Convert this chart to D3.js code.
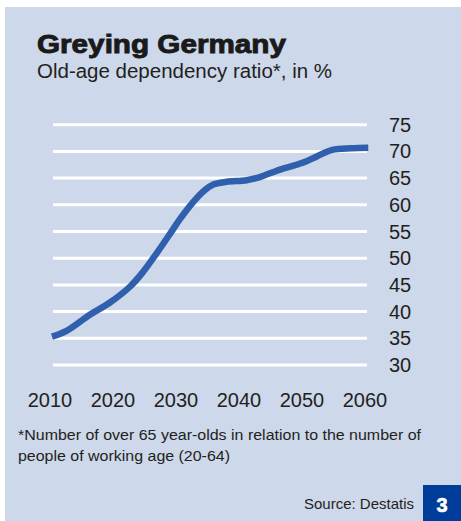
<!DOCTYPE html>
<html><head><meta charset="utf-8">
<script src="https://cdn.jsdelivr.net/npm/d3@7"></script>
<style>body{margin:0;background:#fff}svg{display:block}text{font-family:"Liberation Sans",Arial,sans-serif}</style>
</head><body>
<script>
const years = [2010, 2012.3, 2016, 2019.2, 2022.4, 2024.5, 2026.6, 2028.7, 2030.3, 2032.4, 2034, 2035.6, 2037.7, 2040.9, 2043, 2046.2, 2048.8, 2050.5, 2052.1, 2054.5, 2057.5, 2060.2];
const ratio = [35.3, 36.4, 39.4, 41.7, 44.7, 47.5, 50.9, 54.5, 57.3, 60.5, 62.5, 63.8, 64.3, 64.6, 65.2, 66.6, 67.5, 68.2, 69.1, 70.3, 70.6, 70.7];
const yTicks = [30, 35, 40, 45, 50, 55, 60, 65, 70, 75];
const xTicks = [2010, 2020, 2030, 2040, 2050, 2060];

const W = 461, H = 521;
const svg = d3.select("body").append("svg").attr("width", W).attr("height", H);
svg.append("rect").attr("x", 5).attr("y", 7).attr("width", W - 5).attr("height", H - 7).attr("fill", "#cdd8ea");

const x = d3.scaleLinear().domain([2010, 2060]).range([52, 367]);
const y = d3.scaleLinear().domain([30, 75]).range([365, 124.7]);

// gridlines
svg.append("g").selectAll("line").data(yTicks).join("line")
  .attr("x1", 53).attr("x2", 367)
  .attr("y1", d => y(d)).attr("y2", d => y(d))
  .attr("stroke", "#fff").attr("stroke-width", 3);

// y labels
svg.append("g").selectAll("text").data(yTicks).join("text")
  .attr("x", 389).attr("y", d => y(d) + 7)
  .attr("font-size", 20).attr("fill", "#231f20").text(d => d);

// x labels
svg.append("g").selectAll("text").data(xTicks).join("text")
  .attr("x", d => x(d) - 2).attr("y", 407).attr("text-anchor", "middle")
  .attr("font-size", 20).attr("fill", "#231f20").text(d => d);

// line
const data = years.map((yr, i) => [yr, ratio[i]]);
svg.append("path").datum(data)
  .attr("fill", "none").attr("stroke", "#2f5fad").attr("stroke-width", 6.5)
  .attr("d", d3.line().x(d => x(d[0])).y(d => y(d[1])).curve(d3.curveCatmullRom.alpha(0.5)));

// titles
svg.append("text").attr("x", 37).attr("y", 53).attr("font-size", 25).attr("font-weight", "bold")
  .attr("fill", "#1a1a1a").attr("stroke", "#1a1a1a").attr("stroke-width", 0.9)
  .attr("textLength", 249).attr("lengthAdjust", "spacingAndGlyphs").text("Greying Germany");
svg.append("text").attr("x", 37).attr("y", 78).attr("font-size", 19.5).attr("fill", "#231f20")
  .attr("textLength", 295).attr("lengthAdjust", "spacingAndGlyphs").text("Old-age dependency ratio*, in %");

// footnote
svg.append("text").attr("x", 18).attr("y", 440).attr("font-size", 15.5).attr("fill", "#231f20")
  .attr("textLength", 403).attr("lengthAdjust", "spacingAndGlyphs")
  .text("*Number of over 65 year-olds in relation to the number of");
svg.append("text").attr("x", 18).attr("y", 461).attr("font-size", 15.5).attr("fill", "#231f20")
  .attr("textLength", 212).attr("lengthAdjust", "spacingAndGlyphs")
  .text("people of working age (20-64)");

svg.append("text").attr("x", 414).attr("y", 509).attr("text-anchor", "end").attr("font-size", 15)
  .attr("fill", "#231f20").text("Source: Destatis");

svg.append("rect").attr("x", 423).attr("y", 485).attr("width", 38).attr("height", 36).attr("fill", "#003c99");
svg.append("text").attr("x", 442).attr("y", 512).attr("text-anchor", "middle").attr("font-size", 20)
  .attr("font-weight", "bold").attr("fill", "#fff").attr("stroke", "#fff").attr("stroke-width", 0.6).text("3");
</script>
</body></html>
